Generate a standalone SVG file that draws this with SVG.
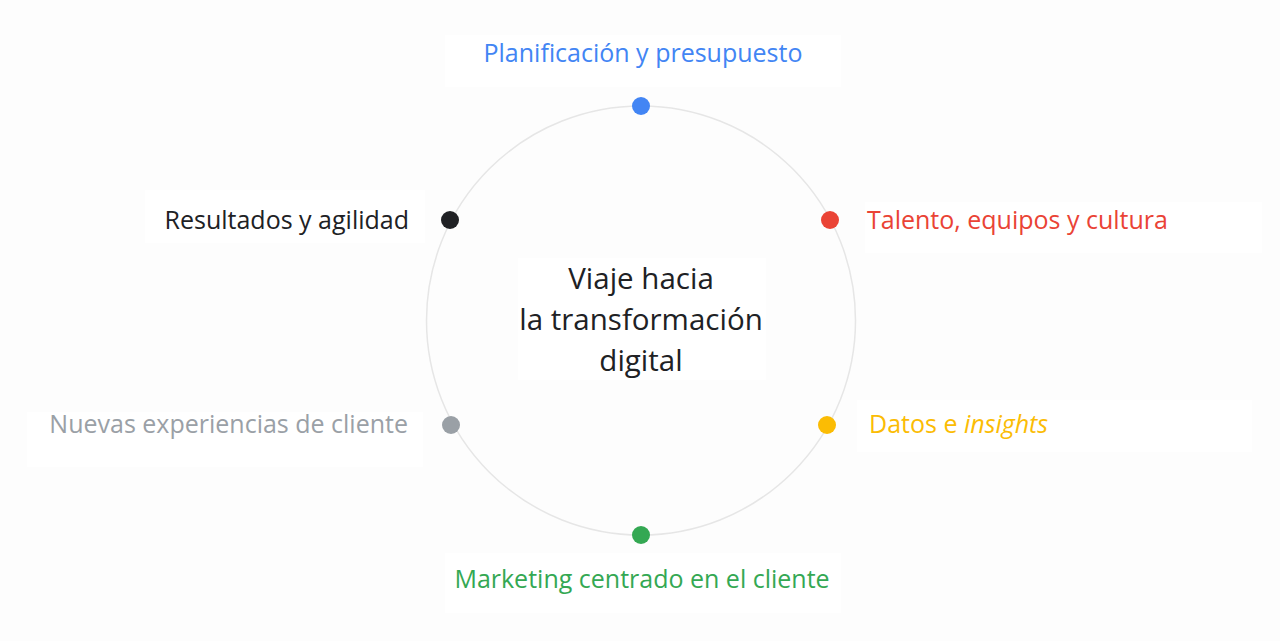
<svg xmlns="http://www.w3.org/2000/svg" width="1280" height="641" viewBox="0 0 1280 641">
<style>
.lbl{font-family:"Open Sans",Roboto,"Liberation Sans",sans-serif;font-size:25px}
.ctr{font-family:"Open Sans",Roboto,"Liberation Sans",sans-serif;font-size:29.5px;fill:#202124}
.box{fill:#ffffff}
</style>
<rect width="1280" height="641" fill="#fdfdfd"/>
<g id="connectors">
<circle cx="641" cy="320.5" r="214.5" fill="none" stroke="#e6e6e6" stroke-width="1.5"/>
</g>
<g id="center">
<rect class="box" x="518" y="258" width="248" height="122"/>
<text class="ctr" text-anchor="middle"><tspan x="641" y="289">Viaje hacia</tspan><tspan x="641" y="330">la transformación</tspan><tspan x="641" y="371">digital</tspan></text>
</g>
<g id="planificacion">
<rect class="box" x="445" y="35" width="396" height="52"/>
<circle cx="641" cy="106" r="9" fill="#4285f4"/>
<text class="lbl" x="643" y="62" text-anchor="middle" fill="#4285f4">Planificación y presupuesto</text>
</g>
<g id="talento">
<rect class="box" x="865" y="202" width="397" height="51"/>
<circle cx="830" cy="220" r="9" fill="#ea4335"/>
<text class="lbl" x="867" y="229" fill="#ea4335">Talento, equipos y cultura</text>
</g>
<g id="datos">
<rect class="box" x="857" y="400" width="395" height="52"/>
<circle cx="827" cy="425" r="9" fill="#fbbc04"/>
<text class="lbl" x="869" y="433" fill="#fbbc04">Datos e <tspan font-style="italic">insights</tspan></text>
</g>
<g id="marketing">
<rect class="box" x="445" y="553" width="396" height="60"/>
<circle cx="641" cy="535" r="9" fill="#34a853"/>
<text class="lbl" x="642" y="588" text-anchor="middle" fill="#34a853">Marketing centrado en el cliente</text>
</g>
<g id="nuevas">
<rect class="box" x="27" y="412" width="396" height="55"/>
<circle cx="451" cy="425" r="9" fill="#9aa0a6"/>
<text class="lbl" x="408" y="433" text-anchor="end" fill="#9aa0a6">Nuevas experiencias de cliente</text>
</g>
<g id="resultados">
<rect class="box" x="145" y="190" width="280" height="53"/>
<circle cx="450" cy="220" r="9" fill="#202124"/>
<text class="lbl" x="409" y="229" text-anchor="end" fill="#202124">Resultados y agilidad</text>
</g>
</svg>
